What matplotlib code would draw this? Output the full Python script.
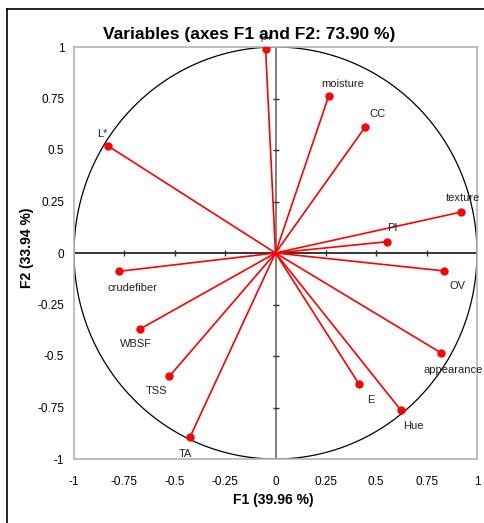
import matplotlib
matplotlib.use("Agg")
import matplotlib.pyplot as plt
import numpy as np
from matplotlib.lines import Line2D

plt.rcParams['font.family'] = ['Liberation Sans', 'DejaVu Sans']

variables = ["pH", "moisture", "CC", "L*", "crudefiber", "texture", "PI", "OV",
             "appearance", "E", "Hue", "WBSF", "TSS", "TA"]
f1 = [-0.049, 0.264, 0.444, -0.830, -0.777, 0.922, 0.555, 0.836,
      0.820, 0.413, 0.623, -0.674, -0.527, -0.424]
f2 = [0.990, 0.762, 0.610, 0.519, -0.089, 0.199, 0.055, -0.087,
      -0.484, -0.634, -0.764, -0.370, -0.599, -0.893]
# label offsets in pixels (dx, dy) relative to the point
label_offsets = [(0, 11), (14, 12), (13, 13), (-6, 12), (14, -17), (2, 14), (5, 14),
                 (14, -15), (12, -17), (12, -16), (12, -16), (-4, -15), (-13, -15), (-5, -17)]
ticks = [-1, -0.75, -0.5, -0.25, 0, 0.25, 0.5, 0.75, 1]
tick_labels = ["-1", "-0.75", "-0.5", "-0.25", "0", "0.25", "0.5", "0.75", "1"]

fig = plt.figure(figsize=(4.85, 5.23), dpi=100)
ax = fig.add_axes([74/485, 1-459/523, (477-74)/485, (459-47)/523])
ax.set_xlim(-1, 1)
ax.set_ylim(-1, 1)

for s in ax.spines.values():
    s.set_color('#b4b4b4')
    s.set_linewidth(1.2)

ax.set_xticks(ticks)
ax.set_xticklabels(tick_labels)
ax.set_yticks(ticks)
ax.set_yticklabels(tick_labels)
ax.tick_params(axis='both', length=0, labelsize=8.5, colors='black')
ax.tick_params(axis='x', pad=12)
ax.tick_params(axis='y', pad=7)

# center axes
ax.axhline(0, color='black', lw=1.1, zorder=1)
ax.axvline(0, color='#7f7f7f', lw=1.4, zorder=1)
inner = [t for t in ticks if t not in (-1, 0, 1)]
ax.plot(inner, [0]*len(inner), ls='none', marker='|', ms=5, mew=1.0, color='#333333', zorder=1)
ax.plot([0]*len(inner), inner, ls='none', marker='_', ms=5, mew=1.0, color='#333333', zorder=1)

# circle
th = np.linspace(0, 2*np.pi, 400)
ax.plot(np.cos(th), np.sin(th), color='black', lw=0.9, zorder=2)

for name, x, y, (dx, dy) in zip(variables, f1, f2, label_offsets):
    ax.plot([0, x], [0, y], color='#ff0000', lw=1.2, zorder=3)
    ax.plot([x], [y], 'o', color='#ff0000', ms=5, zorder=4)
    ax.annotate(name, (x, y), xytext=(dx, dy), textcoords='offset pixels',
                ha='center', va='center', fontsize=8 if name != "pH" else 6,
                color='#222222', zorder=5)

fig.text(249/485, 1-35/523, "Variables (axes F1 and F2: 73.90 %)", ha='center', va='center',
         fontsize=12.5, fontweight='bold')
fig.text(273/485, 1-500/523, "F1 (39.96 %)", ha='center', va='center', fontsize=10,
         fontweight='bold')
fig.text(27/485, 1-248/523, "F2 (33.94 %)", ha='center', va='center', fontsize=10,
         fontweight='bold', rotation=90)

# outer frame
fig.add_artist(Line2D([7/485, 1.0], [1-9/523, 1-9/523], transform=fig.transFigure,
                      color='black', lw=1.2))
fig.add_artist(Line2D([7/485, 7/485], [0.0, 1-9/523], transform=fig.transFigure,
                      color='black', lw=1.2))

fig.savefig("out.png", dpi=100)
